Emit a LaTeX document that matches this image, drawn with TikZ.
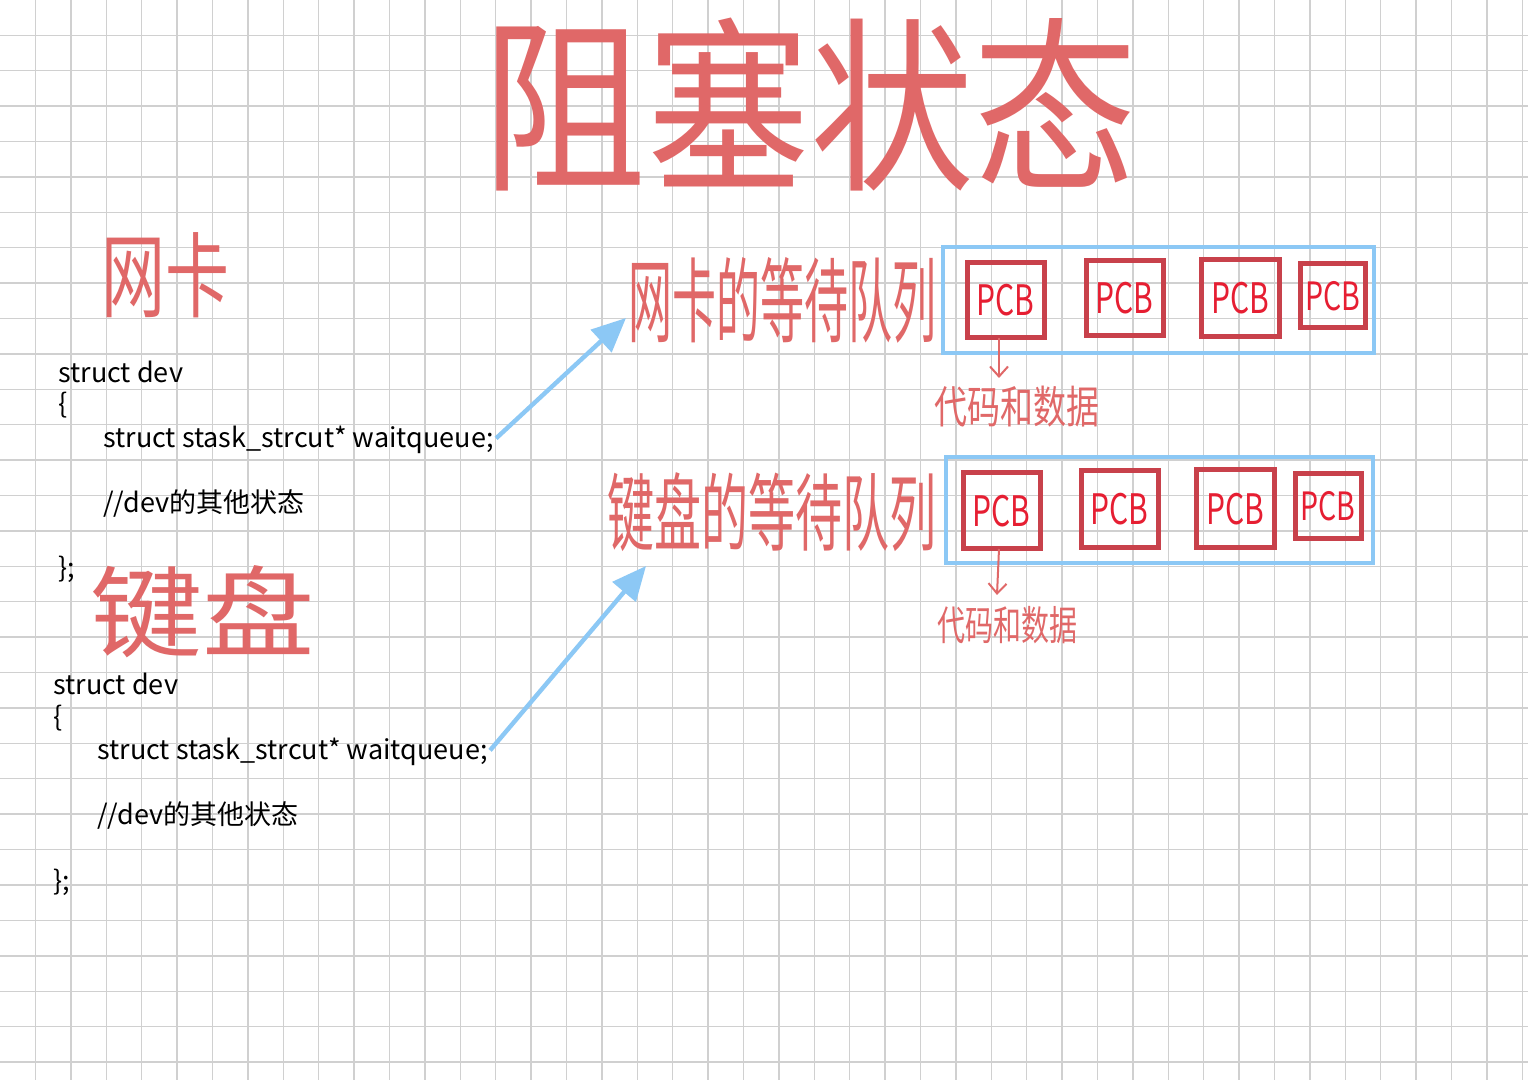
\documentclass[tikz,border=0pt]{standalone}
\usepackage{fontspec}
\setmainfont{Noto Sans CJK SC}
\newfontfamily\cjk{Noto Sans CJK SC}
\usetikzlibrary{arrows.meta}
\definecolor{hand}{HTML}{E06868}
\definecolor{pcbframe}{HTML}{C8414B}
\definecolor{pcbtext}{HTML}{E61E32}
\definecolor{qblue}{HTML}{8CC8F5}
\definecolor{gridc}{HTML}{D0D0D0}
\tikzset{
  code/.style={anchor=base west,inner sep=0pt,font=\cjk\fontsize{13.5}{16}\selectfont,text=black},
  handtxt/.style={inner sep=0pt,text=hand},
  queue/.style={draw=qblue,line width=2pt},
  pcb/.style={draw=pcbframe,line width=2.5pt,inner sep=0pt},
  pcbt/.style={inner sep=0pt,text=pcbtext,font=\cjk\fontsize{15}{15}\selectfont},
  linkarrow/.style={draw=qblue,line width=2.2pt,-{Triangle[length=17pt,width=15pt]}},
  downarrow/.style={draw=hand,line width=1pt,-{Straight Barb[length=5pt,width=9pt]}},
}
\begin{document}
\begin{tikzpicture}[x=0.5pt,y=-0.5pt]
\useasboundingbox (0,0) rectangle (1528,1080);
\fill[white] (0,0) rectangle (1528,1080);
% grid
\foreach \i in {1,...,43} {\draw[gridc,line width=0.7pt] ({\i*35.4},0) -- ({\i*35.4},1080);}
\foreach \j in {1,...,30} {\draw[gridc,line width=0.7pt] (0,{\j*35.4}) -- (1528,{\j*35.4});}

% title
\node[handtxt,font=\cjk\fontsize{78}{78}\selectfont] (title) at (810,105) {\scalebox{1.05}[1.2]{阻塞状态}};

% left labels
\node[handtxt,font=\cjk\fontsize{32}{32}\selectfont] (nic) at (165,275) {\scalebox{1}[1.45]{网卡}};
\node[handtxt,font=\cjk\fontsize{52}{52}\selectfont] (kbd) at (203,612) {\scalebox{1.08}[0.95]{键盘}};

% code block 1
\node[code] (s1) at (58,383) {struct dev};
\node[code] (b1) at (58,414) {\{};
\node[code] (w1) at (103,448) {struct stask\_strcut* waitqueue;};
\node[code] (c1) at (103,513) {//dev的其他状态};
\node[code] (e1) at (58,578) {\};};

% code block 2
\node[code] (s2) at (53,695) {struct dev};
\node[code] (b2) at (53,726) {\{};
\node[code] (w2) at (97,760) {struct stask\_strcut* waitqueue;};
\node[code] (c2) at (97,825) {//dev的其他状态};
\node[code] (e2) at (53,890) {\};};

% queue labels
\node[handtxt,font=\cjk\fontsize{22}{22}\selectfont] (q1lab) at (782,300) {\scalebox{1}[2.1]{网卡的等待队列}};
\node[handtxt,font=\cjk\fontsize{23.5}{23.5}\selectfont] (q2lab) at (772,512) {\scalebox{1}[1.8]{键盘的等待队列}};

% queues
\draw[queue] (943,247) rectangle (1374,353);
\draw[queue] (946,457) rectangle (1373,563);

% PCB boxes queue 1
\node[pcb,minimum width=38.5pt,minimum height=37.5pt] (p11) at (1005.5,300.5) {};
\node[pcb,minimum width=38.5pt,minimum height=37.5pt] (p12) at (1124.5,298.5) {};
\node[pcb,minimum width=39pt,minimum height=38.5pt] (p13) at (1240,298.5) {};
\node[pcb,minimum width=32.5pt,minimum height=32pt] (p14) at (1332.5,296) {};
\node[pcbt] at (p11) {\scalebox{1}[1.4]{PCB}};
\node[pcbt] at (p12) {\scalebox{1}[1.4]{PCB}};
\node[pcbt] at (p13) {\scalebox{1}[1.4]{PCB}};
\node[pcbt] at (p14) {\scalebox{0.95}[1.3]{PCB}};

% PCB boxes queue 2
\node[pcb,minimum width=38.5pt,minimum height=38pt] (p21) at (1001.5,511) {};
\node[pcb,minimum width=38.5pt,minimum height=38.5pt] (p22) at (1119.5,509.5) {};
\node[pcb,minimum width=39pt,minimum height=39pt] (p23) at (1235,509) {};
\node[pcb,minimum width=33pt,minimum height=32.5pt] (p24) at (1328,506.5) {};
\node[pcbt] at (p21) {\scalebox{1}[1.4]{PCB}};
\node[pcbt] at (p22) {\scalebox{1}[1.4]{PCB}};
\node[pcbt] at (p23) {\scalebox{1}[1.4]{PCB}};
\node[pcbt] at (p24) {\scalebox{0.95}[1.3]{PCB}};

% code and data labels
\node[handtxt,font=\cjk\fontsize{16.5}{16.5}\selectfont] (d1) at (1017,407) {\scalebox{1}[1.35]{代码和数据}};
\node[handtxt,font=\cjk\fontsize{14}{14}\selectfont] (d2) at (1007,625) {\scalebox{1}[1.45]{代码和数据}};

\coordinate (a1) at (999,378);
\coordinate (a2) at (997,595);
\draw[downarrow] (999,338) -- (a1);
\draw[downarrow] (999,549) -- (a2);

% links
\coordinate (t1) at (626,318);
\coordinate (t2) at (646,566);
\draw[linkarrow] (w1.east) ++(2,-2) -- (t1);
\draw[linkarrow] (w2.east) ++(2,-2) -- (t2);
\end{tikzpicture}
\end{document}
